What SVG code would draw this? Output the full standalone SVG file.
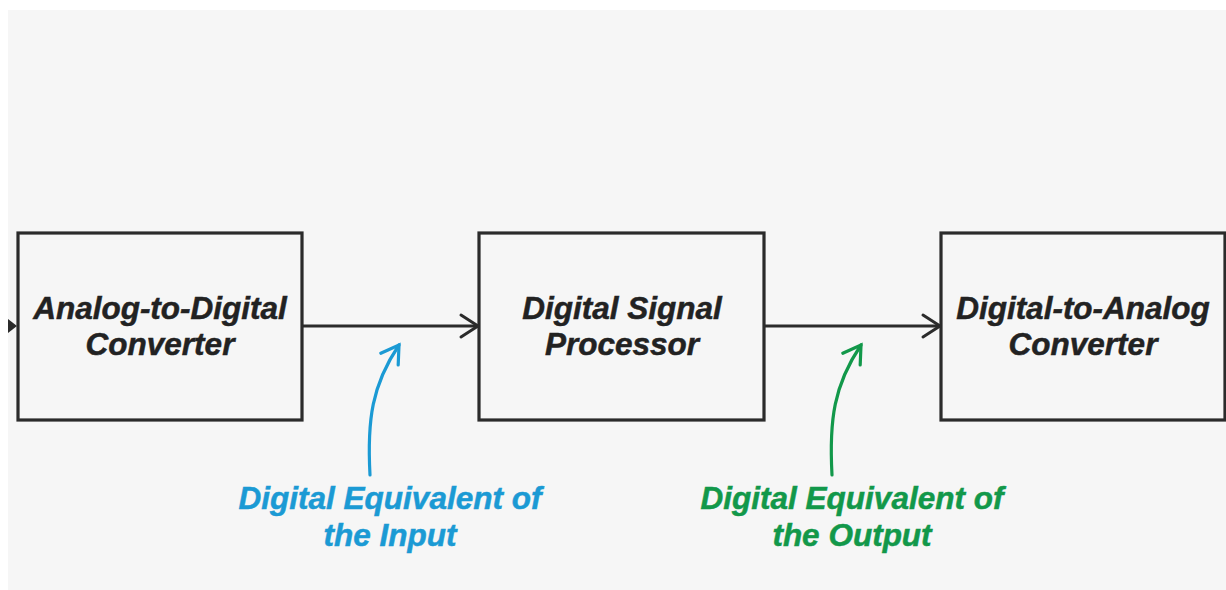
<svg xmlns="http://www.w3.org/2000/svg" width="1226" height="590" viewBox="0 0 1226 590">
  <style>
    .box { fill: #f6f6f6; stroke: #2b2b2b; stroke-width: 3.2; }
    .lbl { font-family: "Liberation Sans", Arial, sans-serif; font-weight: bold; font-style: italic; font-size: 31.5px; text-anchor: middle; stroke-width: 0.5; }
    .dark { fill: #222222; stroke: #222222; }
    .blue { fill: #1b9ad4; stroke: #1b9ad4; }
    .green { fill: #12984a; stroke: #12984a; }
    .wire { fill: none; stroke: #2b2b2b; stroke-width: 3; }
    .curve { fill: none; stroke-width: 3.2; stroke-linecap: round; }
  </style>
  <defs>
    <marker id="chevDark" markerUnits="userSpaceOnUse" viewBox="-21 -14 24 28" markerWidth="24" markerHeight="28" refX="0" refY="0" orient="auto">
      <path d="M-17,-11 L0,0 L-17,11" fill="none" stroke="#2b2b2b" stroke-width="3" stroke-linecap="round" stroke-linejoin="miter"/>
    </marker>
    <marker id="chevBlue" markerUnits="userSpaceOnUse" viewBox="-21 -14 24 28" markerWidth="24" markerHeight="28" refX="0" refY="0" orient="auto">
      <path d="M-17,-10.5 L0,0 L-17,10.5" fill="none" stroke="#1b9ad4" stroke-width="3.2" stroke-linecap="round"/>
    </marker>
    <marker id="chevGreen" markerUnits="userSpaceOnUse" viewBox="-21 -14 24 28" markerWidth="24" markerHeight="28" refX="0" refY="0" orient="auto">
      <path d="M-17,-10.5 L0,0 L-17,10.5" fill="none" stroke="#12984a" stroke-width="3.2" stroke-linecap="round"/>
    </marker>
  </defs>

  <!-- page and panel -->
  <rect x="0" y="0" width="1226" height="590" fill="#ffffff"/>
  <rect x="8" y="10" width="1218" height="580" fill="#f6f6f6"/>

  <!-- connectors -->
  <g id="connectors">
    <polygon points="8,319 17,326 8,333" fill="#2b2b2b"/>
    <line class="wire" x1="303" y1="326" x2="478" y2="326" marker-end="url(#chevDark)"/>
    <line class="wire" x1="765" y1="326" x2="940" y2="326" marker-end="url(#chevDark)"/>
    <path class="curve" stroke="#1b9ad4" d="M370,475 C367,420 372,385 399,345" marker-end="url(#chevBlue)"/>
    <path class="curve" stroke="#12984a" d="M832,475 C829,420 834,385 861,345" marker-end="url(#chevGreen)"/>
  </g>

  <!-- blocks -->
  <g id="adc">
    <rect class="box" x="18" y="233" width="284" height="187"/>
    <text class="lbl dark" x="160" y="319">Analog-to-Digital</text>
    <text class="lbl dark" x="160" y="355">Converter</text>
  </g>
  <g id="dsp">
    <rect class="box" x="479" y="233" width="285" height="187"/>
    <text class="lbl dark" x="622" y="319">Digital Signal</text>
    <text class="lbl dark" x="622" y="355">Processor</text>
  </g>
  <g id="dac">
    <rect class="box" x="941" y="233" width="284" height="187"/>
    <text class="lbl dark" x="1083" y="319">Digital-to-Analog</text>
    <text class="lbl dark" x="1083" y="355">Converter</text>
  </g>

  <!-- annotations -->
  <g id="note-input">
    <text class="lbl blue" x="390" y="509">Digital Equivalent of</text>
    <text class="lbl blue" x="390" y="546">the Input</text>
  </g>
  <g id="note-output">
    <text class="lbl green" x="852" y="509">Digital Equivalent of</text>
    <text class="lbl green" x="852" y="546">the Output</text>
  </g>
</svg>
